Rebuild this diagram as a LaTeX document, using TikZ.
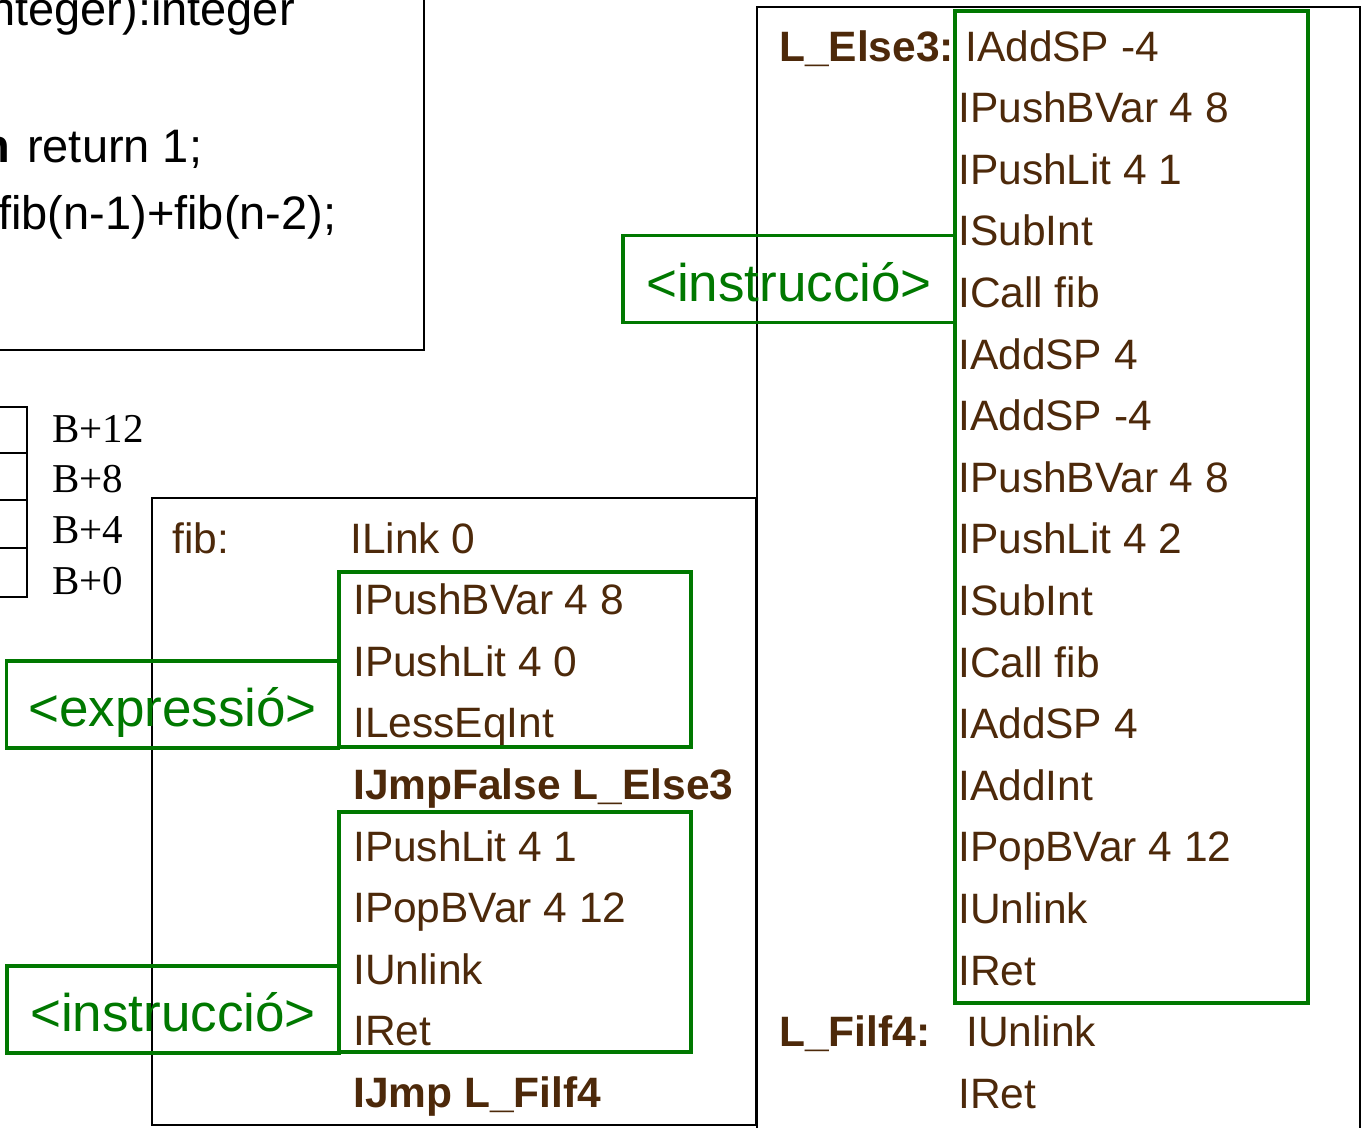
\documentclass[tikz,border=0pt]{standalone}
\usepackage{fontspec}
\setmainfont{Liberation Sans}
\newfontfamily\stackfont{Liberation Serif}
\usetikzlibrary{positioning}
\definecolor{codebrown}{RGB}{77,41,10}
\definecolor{ntgreen}{RGB}{0,120,0}

\begin{document}
\begin{tikzpicture}[
    x=1pt,y=-1pt,
    instr/.style={anchor=base west,inner sep=0pt,text=codebrown,font=\fontsize{42.5}{50}\selectfont},
    kw/.style={instr,font=\fontsize{42.5}{50}\selectfont\bfseries},
    src/.style={anchor=base west,inner sep=0pt,font=\fontsize{47}{55}\selectfont},
    offs/.style={anchor=base west,inner sep=0pt,font=\stackfont\fontsize{41}{48}\selectfont},
    cell/.style={draw,line width=2pt},
    frame/.style={draw,line width=2pt},
    grp/.style={draw=ntgreen,line width=3.5pt,anchor=north west,inner sep=0pt,outer sep=0pt},
    nonterm/.style={draw=ntgreen,line width=3.5pt,text=ntgreen,inner sep=0pt,outer sep=0pt,
        minimum width=332pt,minimum height=87pt,text height=44pt,text depth=0pt,
        font=\fontsize{53}{60}\selectfont},
]
    \clip (0,0) rectangle (1362,1127);

    % source code box (cut by the page)
    \draw[frame] (-10,-10) rectangle (424,350);
    \node[src,anchor=base east] (sig) at (295,25) {nteger):integer};
    \node[src,anchor=base east] (thenkw) at (10,162) {\textbf{n}};
    \node[src] (ret1) at (27,162) {return 1;};
    \node[src] (retfib) at (-2,229) {fib(n-1)+fib(n-2);};

    % stack frame
    \draw[cell] (-10,407) rectangle (27,453);
    \draw[cell] (-10,453) rectangle (27,500);
    \draw[cell] (-10,500) rectangle (27,548);
    \draw[cell] (-10,548) rectangle (27,597);
    \node[offs] (b12) at (52,442) {B+12};
    \node[offs] (b8) at (52,492) {B+8};
    \node[offs] (b4) at (52,543) {B+4};
    \node[offs] (b0) at (52,594) {B+0};

    % fib body
    \draw[frame] (152,498) rectangle (756,1125);
    \node[instr] (fib) at (172,553) {fib:};
    \node[instr] (l1) at (350,553) {ILink 0};
    \node[instr] (l2) at (353,614.6) {IPushBVar 4 8};
    \node[instr] (l3) at (353,676.2) {IPushLit 4 0};
    \node[instr] (l4) at (353,737.8) {ILessEqInt};
    \node[kw] (l5) at (353,799.4) {IJmpFalse L\_Else3};
    \node[instr] (l6) at (353,861) {IPushLit 4 1};
    \node[instr] (l7) at (353,922.6) {IPopBVar 4 12};
    \node[instr] (l8) at (353,984.2) {IUnlink};
    \node[instr] (l9) at (353,1045.8) {IRet};
    \node[kw] (l10) at (353,1107.4) {IJmp L\_Filf4};

    % else branch
    \draw[frame] (757,7) rectangle (1360,1140);
    \node[kw] (lelse) at (779,61) {L\_Else3:};
    \node[instr] (r1) at (965,61) {IAddSP -4};
    \node[instr] (r2) at (958,122.6) {IPushBVar 4 8};
    \node[instr] (r3) at (958,184.2) {IPushLit 4 1};
    \node[instr] (r4) at (958,245.8) {ISubInt};
    \node[instr] (r5) at (958,307.4) {ICall fib};
    \node[instr] (r6) at (958,369) {IAddSP 4};
    \node[instr] (r7) at (958,430.6) {IAddSP -4};
    \node[instr] (r8) at (958,492.2) {IPushBVar 4 8};
    \node[instr] (r9) at (958,553.8) {IPushLit 4 2};
    \node[instr] (r10) at (958,615.4) {ISubInt};
    \node[instr] (r11) at (958,677) {ICall fib};
    \node[instr] (r12) at (958,738.6) {IAddSP 4};
    \node[instr] (r13) at (958,800.2) {IAddInt};
    \node[instr] (r14) at (958,861.8) {IPopBVar 4 12};
    \node[instr] (r15) at (958,923.4) {IUnlink};
    \node[instr] (r16) at (958,985) {IRet};
    \node[kw] (lfi) at (779,1046.6) {L\_Filf4:};
    \node[instr] (r17) at (966,1046.6) {IUnlink};
    \node[instr] (r18) at (958,1108.2) {IRet};

    % grammar frames
    \node[grp,minimum width=352pt,minimum height=175pt] (gcond) at (339,572) {};
    \node[grp,minimum width=352pt,minimum height=240pt] (gthen) at (339,812) {};
    \node[grp,minimum width=353pt,minimum height=992pt] (gelse) at (955,11) {};
    \node[nonterm] (expr) at (172.5,704.5) {<expressió>};
    \node[nonterm] (stthen) at (173,1009.5) {<instrucció>};
    \node[nonterm] (stelse) at (789,279) {<instrucció>};
\end{tikzpicture}
\end{document}
